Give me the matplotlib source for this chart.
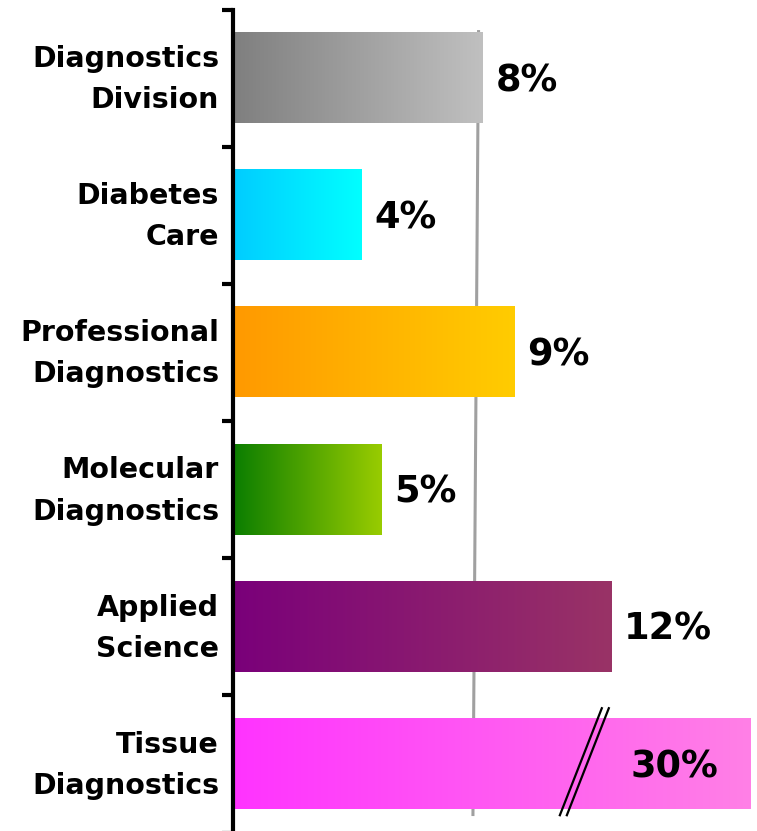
import numpy as np
import matplotlib
matplotlib.use("Agg")
import matplotlib.pyplot as plt
from matplotlib.colors import LinearSegmentedColormap

# 部門ごとの売上伸び率
categories = ['Diagnostics\nDivision', 'Diabetes\nCare', 'Professional\nDiagnostics',
              'Molecular\nDiagnostics', 'Applied\nScience', 'Tissue\nDiagnostics']
value_labels = ['8%', '4%', '9%', '5%', '12%', '30%']
# 棒の長さ
bar_lengths = [8.0, 4.1, 9.0, 4.75, 12.1, 30.0]

# グラデーション(左端, 右端)
start_colors = ['#7f7f7f', '#00ccff', '#ff9900', '#0a7d00', '#7a007a', '#ff33ff']
end_colors = ['#c0c0c0', '#00ffff', '#ffcc00', '#99cc00', '#993366', '#ff80e6']

x_max = 16.58
bar_h = 0.657

fig = plt.figure(figsize=(7.57, 8.31), dpi=100)
ax = fig.add_axes([233 / 757, -1.5 / 831, 518 / 757, 823 / 831])

# 背景の灰色線(棒の後ろ)
ax.plot([7.86, 7.68], [-0.35, 5.38], color='#a0a0a0', lw=2.2, zorder=1,
        solid_capstyle='butt')

grad = np.linspace(0, 1, 256).reshape(1, -1)
for i, v in enumerate(bar_lengths):
    w = min(v, x_max)
    cmap = LinearSegmentedColormap.from_list('g%d' % i, [start_colors[i], end_colors[i]])
    ax.imshow(grad, cmap=cmap, aspect='auto', zorder=2,
              extent=[0, w, i + bar_h / 2, i - bar_h / 2], interpolation='bilinear')
    if v <= x_max:
        ax.text(v + 0.42, i + 0.02, value_labels[i], ha='left', va='center',
                fontsize=26.5, fontweight='bold', family='DejaVu Sans', zorder=3)
    else:
        ax.text(0.853, i + 0.02, value_labels[i], ha='center', va='center',
                fontsize=26.5, fontweight='bold', family='DejaVu Sans', zorder=3,
                transform=ax.get_yaxis_transform())

# 省略記号(二重斜線)
for dx in [0, 0.0135]:
    ax.plot([0.631 + dx, 0.712 + dx], [0.021, 0.151], color='black', lw=1.6,
            transform=ax.transAxes, zorder=4, clip_on=False)

ax.set_xlim(0, x_max)
ax.set_ylim(5.5, -0.5)

# ラベルは少し上にずらす
ax.set_yticks(np.arange(len(categories)) - 0.06)
ax.set_yticklabels(categories, fontsize=20.5, fontweight='bold', family='DejaVu Sans',
                   linespacing=1.6)
ax.tick_params(axis='y', which='major', length=0, pad=10)
ax.set_yticks(np.arange(-0.5, 6.0, 1.0), minor=True)
ax.tick_params(axis='y', which='minor', length=8, width=3, color='black')
ax.set_xticks([])

for side in ['top', 'right', 'bottom']:
    ax.spines[side].set_visible(False)
ax.spines['left'].set_linewidth(3)
ax.patch.set_alpha(0)

fig.savefig('out.png', dpi=100)
